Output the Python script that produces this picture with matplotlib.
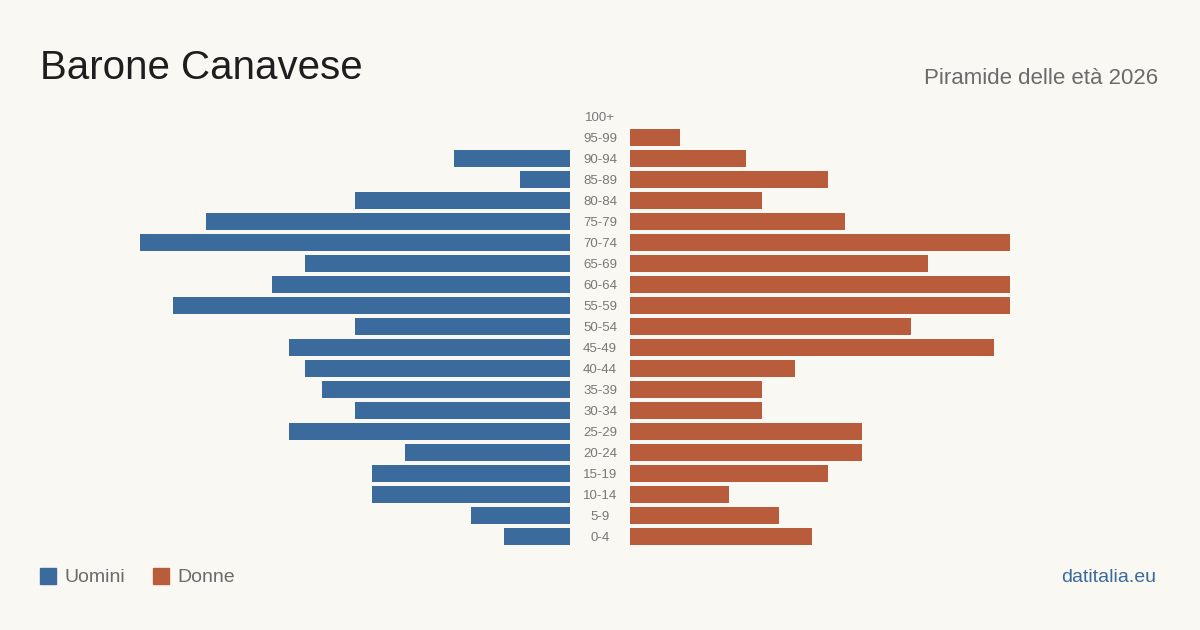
import matplotlib
matplotlib.use("Agg")
import matplotlib.pyplot as plt
from matplotlib.patches import Rectangle

# dati
eta = ["0-4", "5-9", "10-14", "15-19", "20-24", "25-29", "30-34", "35-39",
       "40-44", "45-49", "50-54", "55-59", "60-64", "65-69", "70-74",
       "75-79", "80-84", "85-89", "90-94", "95-99", "100+"]
uomini = [4, 6, 12, 12, 10, 17, 13, 15, 16, 17, 13, 24, 18, 16, 26, 22, 13, 3, 7, 0, 0]
donne = [11, 9, 6, 12, 14, 14, 8, 8, 10, 22, 17, 23, 23, 18, 23, 13, 8, 12, 7, 3, 0]

BG = "#f9f8f3"
BLU = "#3a6b9c"
ROSSO = "#b95c3c"

W, H = 1200, 630
px = 430 / max(uomini)      # pixel per unita
gap = 30 / px               # spazio centrale per le etichette
pitch = 21

fig = plt.figure(figsize=(12, 6.3), dpi=100, facecolor=BG)
ax = fig.add_axes([0, 0, 1, 1])
ax.set_facecolor(BG)
ax.set_xlim(-600 / px, 600 / px)
ax.set_ylim(-93.5 / pitch, (H - 93.5) / pitch)
ax.axis("off")

y = list(range(len(eta)))
ax.barh(y, [-v for v in uomini], left=-gap, height=0.8, color=BLU)
ax.barh(y, donne, left=gap, height=0.8, color=ROSSO)
for i, lab in enumerate(eta):
    ax.text(0, i - 0.05, lab, ha="center", va="center", fontsize=9.5,
            color="#777777", family="Liberation Sans")

# testi
fig.text(40 / W, 1 - 68 / H, "Barone Canavese", fontsize=29, color="#1e1e1e",
         family="Liberation Sans", va="center", ha="left")
fig.text(1158 / W, 1 - 78 / H, "Piramide delle età 2026", fontsize=16,
         color="#6b6b6b", family="Liberation Sans", va="center", ha="right")
fig.text(1156 / W, 1 - 577 / H, "datitalia.eu", fontsize=14, color=BLU,
         family="Liberation Sans", va="center", ha="right")

# legenda
for x0, col, lab in [(40, BLU, "Uomini"), (153, ROSSO, "Donne")]:
    fig.patches.append(Rectangle((x0 / W, 1 - 584 / H), 16 / W, 16 / H,
                                 transform=fig.transFigure, color=col))
    fig.text((x0 + 24) / W, 1 - 577 / H, lab, fontsize=14, color="#6b6b6b",
             family="Liberation Sans", va="center", ha="left")

fig.savefig("out.png", dpi=100, facecolor=BG)
